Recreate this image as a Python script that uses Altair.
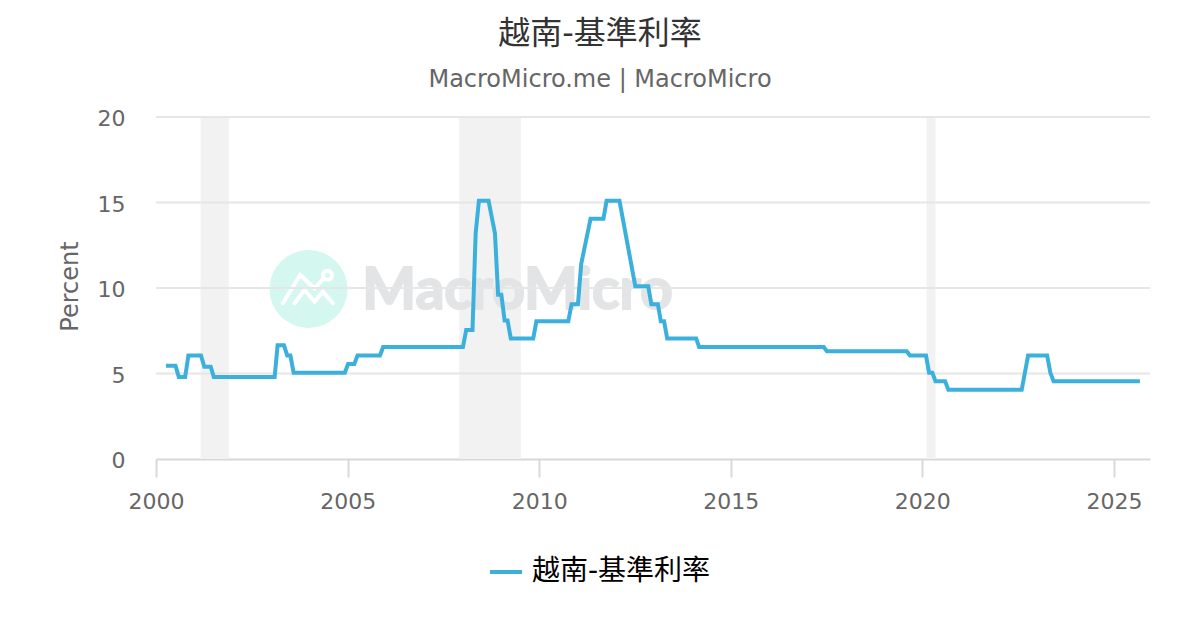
import altair as alt
import pandas as pd

TITLE = "越南-基準利率"
SUBTITLE = "MacroMicro.me | MacroMicro"
FONT = "DejaVu Sans, Noto Sans CJK TC, sans-serif"

dates = ["2000-04", "2000-07", "2000-08", "2000-10", "2000-11", "2001-03", "2001-04", "2001-06", "2001-07",
         "2003-02", "2003-03", "2003-05", "2003-06", "2003-07", "2003-08", "2004-12", "2005-01", "2005-03",
         "2005-04", "2005-11", "2005-12", "2008-01", "2008-02", "2008-04", "2008-05", "2008-06", "2008-09",
         "2008-11", "2008-12", "2009-01", "2009-02", "2009-03", "2009-04", "2009-11", "2009-12", "2010-10",
         "2010-11", "2011-01", "2011-02", "2011-05", "2011-09", "2011-10", "2012-02", "2012-07", "2012-11",
         "2012-12", "2013-02", "2013-03", "2013-04", "2013-05", "2014-02", "2014-03", "2017-06", "2017-07",
         "2019-08", "2019-09", "2020-02", "2020-03", "2020-04", "2020-05", "2020-08", "2020-09", "2022-08",
         "2022-10", "2023-04", "2023-05", "2023-06", "2025-09"]
rates = [5.45, 5.45, 4.8, 4.8, 6.05, 6.05, 5.4, 5.4, 4.8,
         4.8, 6.65, 6.65, 6.05, 6.05, 5.05, 5.05, 5.55, 5.55,
         6.05, 6.05, 6.55, 6.55, 7.55, 7.55, 13.2, 15.1, 15.1,
         13.2, 9.6, 9.6, 8.1, 8.1, 7.05, 7.05, 8.05, 8.05,
         9.05, 9.05, 11.4, 14.05, 14.05, 15.1, 15.1, 10.1, 10.1,
         9.05, 9.05, 8.05, 8.05, 7.05, 7.05, 6.55, 6.55, 6.3,
         6.3, 6.05, 6.05, 5.05, 5.05, 4.55, 4.55, 4.05, 4.05,
         6.05, 6.05, 5.05, 4.55, 4.55]

band_start = ["2001-03-01", "2007-12-01", "2020-02-10"]
band_end = ["2001-11-25", "2009-07-10", "2020-05-05"]
grid_values = [5, 10, 15, 20]
tick_years = [2000, 2005, 2010, 2015, 2020, 2025]

LOGO_PATH = ("M-0.514 0.286L-0.166 -0.28L0.12 -0.014L0.286 -0.194"
             "M0.47 -0.274A0.09 0.09 0 1 1 0.29 -0.274A0.09 0.09 0 1 1 0.47 -0.274"
             "M-0.28 0.286L-0.08 0.02L0.12 0.254L0.286 0.054L0.486 0.286")

line_df = pd.DataFrame({"date": [d + "-05" for d in dates], "rate": rates, "series": TITLE})
band_df = pd.DataFrame({"start": band_start, "end": band_end})
grid_df = pd.DataFrame({"v": grid_values})
one = pd.DataFrame({"a": [0]})

x_scale = alt.Scale(type="utc", domain=[alt.DateTime(year=2000, month=1, date=1, utc=True),
                                        alt.DateTime(year=2025, month=12, date=10, utc=True)])
y_scale = alt.Scale(domain=[0, 20], nice=False)

x_axis = alt.Axis(values=[alt.DateTime(year=y, month=1, date=1, utc=True) for y in tick_years],
                  format="%Y", grid=False, domainColor="#d8d8d8", domainWidth=2,
                  tickColor="#d8d8d8", tickWidth=2, tickSize=18, labelFontSize=22,
                  labelColor="#666666", labelFont=FONT, labelPadding=14, labelOverlap=False,
                  labelFlush=False)
y_axis = alt.Axis(values=[0, 5, 10, 15, 20], grid=False, domain=False, ticks=False,
                  labelFontSize=22, labelColor="#666666", labelFont=FONT, labelPadding=31,
                  labelOffset=1.5, titleFontSize=24, titleColor="#666666", titleFont=FONT,
                  titleFontWeight="normal", titlePadding=15, titleY=169)

bands = alt.Chart(band_df).mark_rect(color="#f2f2f2").encode(
    x=alt.X("start:T", scale=x_scale, axis=x_axis, title=None), x2="end:T")

logo_circle = alt.Chart(one).mark_circle(color="#d4f7f0", size=6084, opacity=1).encode(
    x=alt.value(152.5), y=alt.value(172))
logo_icon = alt.Chart(one).mark_point(shape=LOGO_PATH, size=10000, filled=False, stroke="white",
                                      strokeWidth=4, strokeCap="round", opacity=1).encode(
    x=alt.value(152.5), y=alt.value(172))
logo_text = alt.Chart(one).mark_text(text="MacroMicro", font="Lato", fontWeight="bold", fontSize=57,
                                     color="#e3e4e6", stroke="#e3e4e6", strokeWidth=2,
                                     align="center", baseline="alphabetic").encode(
    x=alt.value(361.5), y=alt.value(192))

grid = alt.Chart(grid_df).mark_rule(color="#e6e6e6", strokeWidth=2).encode(
    y=alt.Y("v:Q", scale=y_scale, axis=y_axis, title="Percent"))

line = alt.Chart(line_df).mark_line(strokeWidth=4, strokeJoin="miter").encode(
    x=alt.X("date:T", scale=x_scale, title=None, axis=x_axis),
    y=alt.Y("rate:Q", scale=y_scale, title="Percent", axis=y_axis),
    color=alt.Color("series:N", scale=alt.Scale(domain=[TITLE], range=["#3cb0dc"]), title=None,
                    legend=alt.Legend(orient="none", legendX=332, legendY=437, symbolType="stroke",
                                      symbolSize=1024, symbolStrokeWidth=4, labelFontSize=28,
                                      labelColor="#000000", labelFont=FONT, labelOffset=8,
                                      labelLimit=400)),
)

chart = alt.layer(bands, logo_circle, logo_icon, logo_text, grid, line).properties(
    width=994,
    height=342,
    padding={"left": 148, "top": 109, "right": 42, "bottom": 163},
    autosize=alt.AutoSizeParams(type="none"),
    background="white",
    title=alt.TitleParams(text=TITLE, subtitle=SUBTITLE, anchor="middle", frame="group", dx=-53,
                          font=FONT, fontSize=32, fontWeight="normal", color="#333333",
                          subtitleFont=FONT, subtitleFontSize=24, subtitleColor="#666666",
                          subtitlePadding=17, offset=15),
).configure_view(strokeWidth=0)

chart.save("out.html", embed_options={"renderer": "svg", "actions": False})
